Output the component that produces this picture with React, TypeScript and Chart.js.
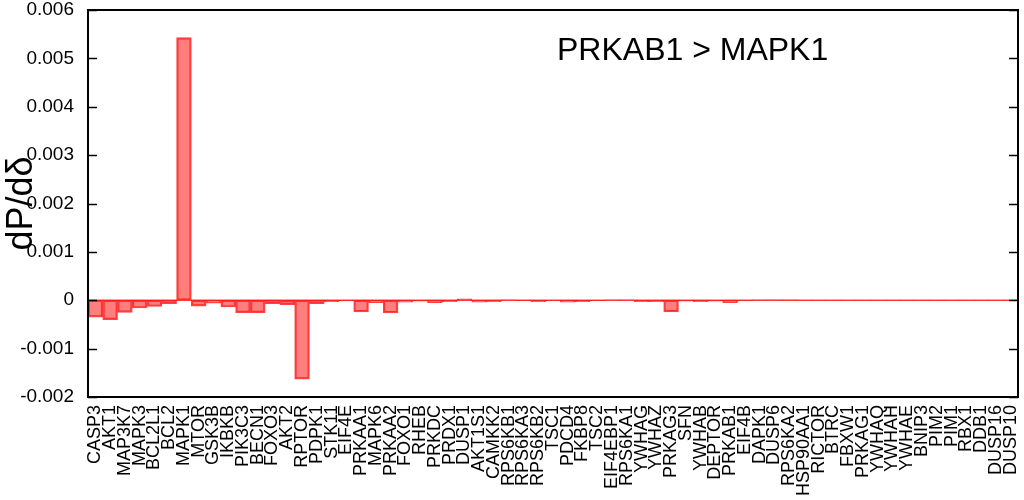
import React, { useEffect, useRef } from "react";
import { Chart, registerables } from "chart.js";

Chart.register(...registerables);

const categories: string[] = [
  "CASP3", "AKT1", "MAP3K7", "MAPK3", "BCL2L1", "BCL2", "MAPK1", "MTOR", "GSK3B", "IKBKB",
  "PIK3C3", "BECN1", "FOXO3", "AKT2", "RPTOR", "PDPK1", "STK11", "EIF4E", "PRKAA1", "MAPK6",
  "PRKAA2", "FOXO1", "RHEB", "PRKDC", "PRDX1", "DUSP1", "AKT1S1", "CAMKK2", "RPS6KB1", "RPS6KA3",
  "RPS6KB2", "TSC1", "PDCD4", "FKBP8", "TSC2", "EIF4EBP1", "RPS6KA1", "YWHAG", "YWHAZ", "PRKAG3",
  "SFN", "YWHAB", "DEPTOR", "PRKAB1", "EIF4B", "DAPK1", "DUSP6", "RPS6KA2", "HSP90AA1", "RICTOR",
  "BTRC", "FBXW1", "PRKAG1", "YWHAQ", "YWHAH", "YWHAE", "BNIP3", "PIM2", "PIM1", "RBX1",
  "DDB1", "DUSP16", "DUSP10",
];

const values: number[] = [
  -0.00035, -0.0004, -0.00025, -0.00016, -0.00013, -0.00007, 0.00543, -0.00012, -0.00006, -0.00014,
  -0.000255, -0.000255, -0.00007, -0.00009, -0.00163, -0.00007, -0.00003, -0.00001, -0.00024, -0.00005,
  -0.00026, -0.00004, -0.00002, -0.00005, -0.00003, 0.00003, -0.00004, -0.00003, 0.00001, -0.00001,
  -0.00003, -0.00001, -0.00004, -0.00003, -0.00001, 0.00001, 0.00001, -0.00003, -0.00003, -0.00024,
  -0.00002, -0.00003, -0.00002, -0.00005, -0.00001, 0.00001, 0.00001, 0.00001, -0.000005, -0.000005,
  -0.000005, -0.000005, -0.000005, -0.000005, -0.000005, -0.000005, -0.000005, -0.000005, -0.000005, -0.000005,
  -0.000005, -0.000005, -0.000005,
];

const yMin = -0.002;
const yMax = 0.006;
const yStep = 0.001;
const yTitle = "dP/dδ";
const annotation = "PRKAB1 > MAPK1";

const FONT = "'Liberation Sans', Arial, Helvetica, sans-serif";

const baselinePlugin = {
  id: "baseline",
  afterDatasetsDraw(chart: any) {
    const { ctx, chartArea } = chart;
    const y = chart.scales.y;
    const py = y.getPixelForValue(0);
    ctx.save();
    ctx.strokeStyle = "rgba(255,20,20,0.8)";
    ctx.lineWidth = 1.5;
    ctx.beginPath();
    ctx.moveTo(chartArea.left, py);
    ctx.lineTo(chartArea.right, py);
    ctx.stroke();
    ctx.restore();
  },
};

const framePlugin = {
  id: "frame",
  afterDraw(chart: any) {
    const { ctx, chartArea } = chart;
    const { left, right, top, bottom } = chartArea;
    const y = chart.scales.y;
    ctx.save();
    ctx.strokeStyle = "#000";
    ctx.lineWidth = 2;
    ctx.strokeRect(left, top, right - left, bottom - top);
    ctx.lineWidth = 1.5;
    y.ticks.forEach((t: any) => {
      const py = Math.round(y.getPixelForValue(t.value)) + 0.5;
      ctx.beginPath();
      ctx.moveTo(left, py);
      ctx.lineTo(left + 9, py);
      ctx.moveTo(right, py);
      ctx.lineTo(right - 9, py);
      ctx.stroke();
    });
    ctx.fillStyle = "#000";
    ctx.font = `32px ${FONT}`;
    ctx.textAlign = "left";
    ctx.textBaseline = "alphabetic";
    ctx.fillText(annotation, left + 469, top + 50);
    ctx.restore();
  },
};

export default function App() {
  const canvasRef = useRef<HTMLCanvasElement | null>(null);

  useEffect(() => {
    if (!canvasRef.current) return;
    Chart.defaults.font.family = FONT;
    Chart.defaults.color = "#000";
    const chart = new Chart(canvasRef.current, {
      type: "bar",
      data: {
        labels: categories,
        datasets: [
          {
            data: values,
            backgroundColor: "rgba(255,0,0,0.5)",
            borderColor: "rgba(255,20,20,0.8)",
            borderWidth: 1.5,
            borderSkipped: false,
            barPercentage: 1,
            categoryPercentage: 1,
          },
        ],
      },
      options: {
        animation: false,
        responsive: false,
        devicePixelRatio: 1,
        layout: { padding: { top: 10, right: 6, left: 0, bottom: 0 } },
        plugins: {
          legend: { display: false },
          tooltip: { enabled: false },
        },
        scales: {
          x: {
            grid: { display: false },
            border: { display: false },
            ticks: {
              autoSkip: false,
              minRotation: 90,
              maxRotation: 90,
              padding: 0,
              color: "#000",
              font: { size: 18, family: FONT },
            },
            afterFit(scale: any) {
              scale.height = 103;
              scale.paddingLeft = 0;
              scale.paddingRight = 0;
            },
          },
          y: {
            min: yMin,
            max: yMax,
            grid: { display: false },
            border: { display: false },
            ticks: {
              stepSize: yStep,
              padding: 6,
              color: "#000",
              font: { size: 19, family: FONT },
              callback: (v: any) => (Math.abs(Number(v)) < 1e-12 ? "0" : Number(v).toFixed(3)),
            },
            title: {
              display: true,
              text: yTitle,
              color: "#000",
              font: { size: 36, family: FONT },
              padding: 0,
            },
            afterFit(scale: any) {
              scale.width = 88;
              scale.paddingTop = 0;
              scale.paddingBottom = 0;
            },
          },
        },
      },
      plugins: [baselinePlugin, framePlugin],
    });
    return () => chart.destroy();
  }, []);

  return (
    <div style={{ position: "fixed", left: 0, top: 0, width: 1024, height: 500, background: "#fff" }}>
      <canvas ref={canvasRef} width={1024} height={500} style={{ width: 1024, height: 500 }} />
    </div>
  );
}
